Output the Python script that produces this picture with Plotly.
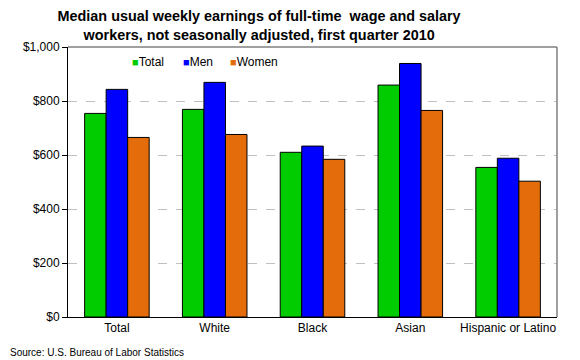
import plotly.graph_objects as go

categories = ["Total", "White", "Black", "Asian", "Hispanic or Latino"]
series_names = ["Total", "Men", "Women"]
total = [754, 769, 610, 859, 554]
men = [843, 869, 633, 939, 588]
women = [665, 676, 584, 765, 503]
y_ticks = [0, 200, 400, 600, 800, 1000]
y_tick_labels = ["$0", "$200", "$400", "$600", "$800", "$1,000"]
colors = ["#00CC00", "#0000FF", "#E46C0A"]

FONT = "Liberation Sans, Arial, sans-serif"

fig = go.Figure()
for name, vals, color in zip(series_names, [total, men, women], colors):
    fig.add_trace(go.Bar(name=name, x=categories, y=vals,
                         marker=dict(color=color, line=dict(color="black", width=1))))

# page body has an 8px margin, so the figure is 8px smaller than the window
fig.update_layout(
    width=572, height=352,
    margin=dict(l=60, r=23, t=39, b=43),
    paper_bgcolor="white", plot_bgcolor="white",
    barmode="group", bargap=0.34, bargroupgap=0,
    font=dict(family=FONT, size=12, color="black"),
    title=dict(text="<b>Median usual weekly earnings of full-time  wage and salary<br>workers, not seasonally adjusted, first quarter 2010</b>",
               x=0.439, xanchor="center", xref="container",
               y=0.962, yanchor="top", yref="container",
               font=dict(family=FONT, size=14.4, color="black")),
    showlegend=False,
)
fig.update_xaxes(showline=True, linecolor="black", linewidth=1, ticks="",
                 tickfont=dict(size=12), mirror=False, showgrid=False)
fig.update_yaxes(range=[0, 1000], tickvals=y_ticks, ticktext=y_tick_labels,
                 showline=True, linecolor="black", linewidth=1,
                 ticks="outside", ticklen=5, tickcolor="black",
                 showgrid=True, gridcolor="#C0C0C0", griddash="dash", gridwidth=1,
                 tickfont=dict(size=12), zeroline=False)
# plot frame (top/right border in gray)
fig.add_shape(type="line", xref="paper", yref="paper", x0=0, x1=1, y0=1, y1=1,
              line=dict(color="#808080", width=1.5))
fig.add_shape(type="line", xref="paper", yref="paper", x0=1, x1=1, y0=0, y1=1,
              line=dict(color="#808080", width=1.5))

# legend drawn as text entries
legend_x = [0.127, 0.231, 0.327]
for name, color, lx in zip(series_names, colors, legend_x):
    fig.add_annotation(
        text=f'<span style="color:{color};font-size:11px">■</span>{name}',
        xref="paper", yref="paper", x=lx, y=0.944, xanchor="left", yanchor="middle",
        showarrow=False, font=dict(size=12, family=FONT, color="black"))

fig.add_annotation(text="Source: U.S. Bureau of Labor Statistics", xref="paper", yref="paper",
                   x=-60/489, y=-35/270, xanchor="left", yanchor="middle", showarrow=False,
                   font=dict(size=10, family=FONT, color="black"))

fig.write_html("out.html")
